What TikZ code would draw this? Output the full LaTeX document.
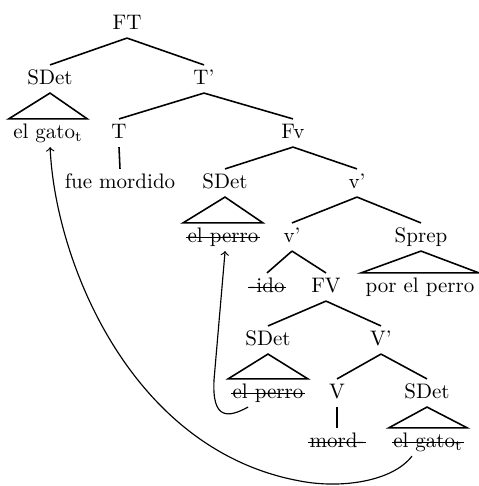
\documentclass[tikz,border=0pt]{standalone}
\usepackage{tikz}
\newcommand{\tsub}{$_{\mathrm{t}}$}

\begin{document}
\begin{tikzpicture}[
  x=0.476pt, y=-0.476pt,
  cat/.style={inner sep=2pt, text height=7pt, text depth=2pt},
  branch/.style={line width=0.75pt},
  roof/.style={line width=0.75pt},
  strike/.style={line width=0.55pt},
  move/.style={line width=0.55pt, ->},
]
\useasboundingbox (0,0) rectangle (478,486);
% rows (px from top): 24, 79, 132, 182, 237, 287, 340, 393, 442
\node[cat] (ft)     at (127,24)  {FT};
\node[cat] (sdA)    at (50,79)   {SDet};
\node[cat] (tbar)   at (204,79)  {T'};
\node[cat] (gatoA)  at (48,133)  {el gato\tsub};
\node[cat] (t)      at (119,133) {T};
\node[cat] (fue)    at (120,183) {fue mordido};
\node[cat] (fv)     at (293,133) {Fv};
\node[cat] (sdB)    at (225,183) {SDet};
\node[cat] (vbarA)  at (357,183) {v'};
\node[cat] (perroB) at (223,237) {el perro};
\node[cat] (vbarB)  at (292,237) {v'};
\node[cat] (sprep)  at (421,237) {Sprep};
\node[cat] (ido)    at (267,287) {-ido};
\node[cat] (fvb)    at (326,287) {FV};
\node[cat] (por)    at (420,287) {por el perro};
\node[cat] (sdC)    at (268,340) {SDet};
\node[cat] (vbar)   at (381,340) {V'};
\node[cat] (perroC) at (268,393) {el perro};
\node[cat] (v)      at (337,393) {V};
\node[cat] (sdD)    at (427,393) {SDet};
\node[cat] (mord)   at (337,442) {mord-};
\node[cat] (gatoB)  at (428,442) {el gato\tsub};

% branches
\foreach \p/\c in {ft/sdA, ft/tbar, tbar/t, tbar/fv, t/fue, fv/sdB, fv/vbarA,
  vbarA/vbarB, vbarA/sprep, vbarB/ido, vbarB/fvb, fvb/sdC, fvb/vbar,
  vbar/v, vbar/sdD, v/mord}
  \draw[branch] (\p.south) -- (\c.north);

% triangles
\foreach \p/\c in {sdA/gatoA, sdB/perroB, sprep/por, sdC/perroC, sdD/gatoB}
  \draw[roof] (\c.north west) -- (\p.south) -- (\c.north east) -- cycle;

% traces struck out
\foreach \n in {perroB, ido, perroC, mord, gatoB}
  \draw[strike] ([xshift=1.5pt,yshift=2.4pt]\n.base west) -- ([xshift=-1.5pt,yshift=2.4pt]\n.base east);

% movement
\coordinate (fondo) at (300,481);
\draw[move] ([xshift=-9.5pt]perroC.south) .. controls (228,418) and (212,420) .. (214,380)
  -- ([xshift=1pt]perroB.south);
\draw[move] ([xshift=-7.6pt]gatoB.south) .. controls (392,482) and (340,488.8) .. (fondo)
  .. controls (130,450) and (55,260) .. ([xshift=1pt]gatoA.south);
\end{tikzpicture}
\end{document}
